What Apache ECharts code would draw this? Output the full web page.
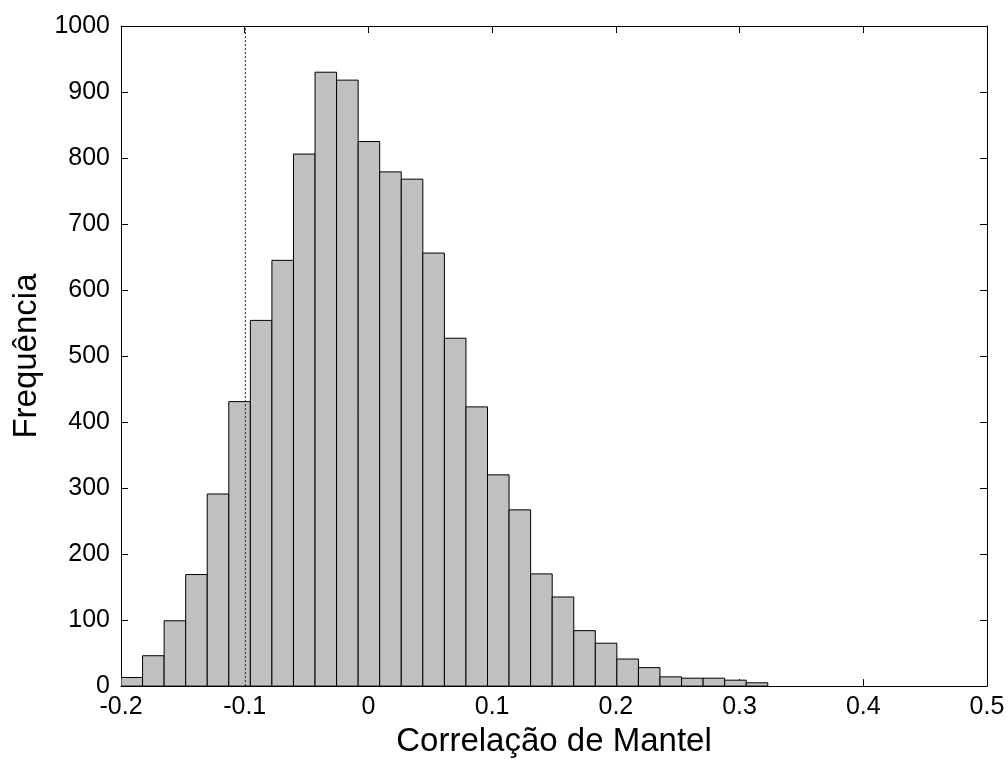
<!DOCTYPE html>
<html>
<head>
<meta charset="utf-8">
<script src="https://cdn.jsdelivr.net/npm/echarts@6/dist/echarts.min.js"></script>
<style>html,body{margin:0;padding:0;background:#fff}#c{width:1008px;height:763px}</style>
</head>
<body>
<div id="c"></div>
<script>
// Histogram data
const binStart = -0.2;
const binWidth = 0.017427;
const counts = [13, 46, 99, 169, 291, 431, 554, 645, 806, 930, 918, 825, 779, 768, 656, 527, 423, 320, 267, 170, 135, 84, 65, 41, 28, 14, 12, 12, 9, 5];
const observedValue = -0.0995;
const xTicks = [-0.2, -0.1, 0, 0.1, 0.2, 0.3, 0.4, 0.5];
const yTicks = [0, 100, 200, 300, 400, 500, 600, 700, 800, 900, 1000];
const xTitle = 'Correlação de Mantel';
const yTitle = 'Frequência';

const bars = counts.map((c, i) => [binStart + i * binWidth, binStart + (i + 1) * binWidth, c]);

const FONT = '"Liberation Sans", Arial, sans-serif';
const axisCommon = {
  axisLine: { show: true, onZero: false, lineStyle: { color: '#000', width: 1 } },
  axisTick: { show: true, inside: true, length: 7, lineStyle: { color: '#000', width: 1 } },
  splitLine: { show: false }
};

const chart = echarts.init(document.getElementById('c'), null, { renderer: 'canvas' });
chart.setOption({
  animation: false,
  backgroundColor: '#fff',
  grid: { left: 121, right: 21, top: 26, bottom: 76, containLabel: false },
  xAxis: [
    Object.assign({
      type: 'value', min: xTicks[0], max: xTicks[xTicks.length - 1], interval: 0.1,
      name: xTitle, nameLocation: 'middle', nameGap: 37,
      nameTextStyle: { fontFamily: FONT, fontSize: 33, color: '#000' },
      axisLabel: { show: true, margin: 9, fontFamily: FONT, fontSize: 25, color: '#000',
        formatter: v => { const r = Math.round(v * 10) / 10; return r === 0 ? '0' : String(r); } }
    }, axisCommon),
    Object.assign({
      type: 'value', position: 'top', min: xTicks[0], max: xTicks[xTicks.length - 1], interval: 0.1,
      axisLabel: { show: false }
    }, axisCommon)
  ],
  yAxis: [
    Object.assign({
      type: 'value', min: yTicks[0], max: yTicks[yTicks.length - 1], interval: 100,
      name: yTitle, nameLocation: 'middle', nameGap: 78,
      nameTextStyle: { fontFamily: FONT, fontSize: 33, color: '#000' },
      axisLabel: { show: true, margin: 11, fontFamily: FONT, fontSize: 25, color: '#000',
        formatter: v => String(Math.round(v)) }
    }, axisCommon),
    Object.assign({
      type: 'value', position: 'right', min: yTicks[0], max: yTicks[yTicks.length - 1], interval: 100,
      axisLabel: { show: false }
    }, axisCommon)
  ],
  series: [
    {
      type: 'custom',
      xAxisIndex: 0, yAxisIndex: 0,
      clip: true,
      data: bars,
      encode: { x: [0, 1], y: 2 },
      renderItem: function (params, api) {
        const p0 = api.coord([api.value(0), 0]);
        const p1 = api.coord([api.value(1), api.value(2)]);
        return {
          type: 'rect',
          shape: { x: p0[0], y: p1[1], width: p1[0] - p0[0], height: p0[1] - p1[1] },
          style: { fill: '#c0c0c0', stroke: '#000', lineWidth: 1 }
        };
      },
      z: 2
    },
    {
      type: 'line',
      xAxisIndex: 0, yAxisIndex: 0,
      data: [[observedValue, 0], [observedValue, 1000]],
      symbol: 'none',
      lineStyle: { color: '#222', width: 1, type: [2, 2] },
      z: 3
    }
  ]
});
</script>
</body>
</html>
